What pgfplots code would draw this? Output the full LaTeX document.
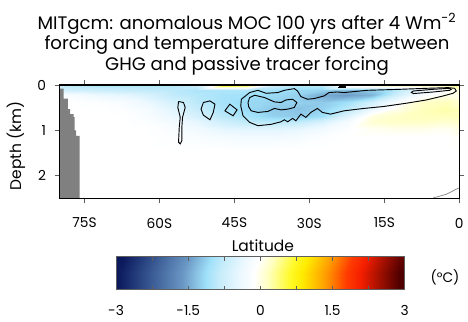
\documentclass[border=0pt]{standalone}
\usepackage{fontspec}
\setmainfont{Poppins}
\usepackage{pgfplots}
\pgfplotsset{compat=1.18}
\pgfplotsset{colormap={tempmap}{
 rgb255(0cm)=(0,10,80)
 rgb255(0.75cm)=(50,80,140)
 rgb255(1.5cm)=(105,150,195)
 rgb255(2cm)=(160,225,250)
 rgb255(2.25cm)=(195,235,250)
 rgb255(2.7cm)=(235,248,255)
 rgb255(3cm)=(255,255,255)
 rgb255(3.3cm)=(255,255,190)
 rgb255(3.75cm)=(255,250,40)
 rgb255(4cm)=(255,235,0)
 rgb255(4.5cm)=(255,150,0)
 rgb255(4.9cm)=(255,60,0)
 rgb255(5.2cm)=(245,30,0)
 rgb255(5.6cm)=(160,15,0)
 rgb255(6cm)=(80,0,0)}}
\definecolor{landgray}{RGB}{128,128,128}
\definecolor{tickgray}{RGB}{95,95,95}
\begin{document}
\begin{tikzpicture}
\path (0,0) rectangle (351pt,-243pt);
\node[anchor=base, font=\fontsize{13.7}{16}\selectfont, inner sep=0pt] at (186.75pt,-21.98pt) {MITgcm: anomalous MOC 100 yrs after 4 Wm\textsuperscript{-2}};
\node[anchor=base, font=\fontsize{13.7}{16}\selectfont, inner sep=0pt] at (186.75pt,-37.5pt) {forcing and temperature difference between};
\node[anchor=base, font=\fontsize{13.7}{16}\selectfont, inner sep=0pt] at (186.75pt,-53.0pt) {GHG and passive tracer forcing};
\node[anchor=base, font=\fontsize{10.4}{12}\selectfont, inner sep=0pt] at (336.5pt,-213.5pt) {(°C)};
\begin{axis}[
  at={(45pt,-150pt)}, anchor=south west,
  scale only axis, width=302.25pt, height=85.7pt,
  xmin=-80, xmax=0, ymin=0, ymax=2.5, y dir=reverse,
  xtick={-75,-60,-45,-30,-15,0}, xticklabels={75S,60S,45S,30S,15S,0},
  ytick={0,1,2}, yticklabels={0,1,2},
  tick align=outside, tick pos=both,
  major tick length=3.75pt,
  every tick/.style={tickgray, line width=0.6pt},
  axis line style={line width=1.1pt, black},
  ticklabel style={font=\fontsize{10.4}{12}\selectfont},
  xticklabel style={yshift=-7.5pt},
  yticklabel style={xshift=-3pt},
  xlabel={Latitude}, ylabel={Depth (km)},
  xlabel style={at={(axis description cs:0.5087,-0.465)}, anchor=base, font=\fontsize{11.7}{14}\selectfont},
  ylabel style={at={(axis description cs:-0.109,0.464)}, anchor=center, font=\fontsize{11.7}{14}\selectfont},
  colormap name=tempmap, point meta min=-3, point meta max=3,
  axis on top,
]
\addplot[matrix plot*, shader=interp, mesh/cols=17, point meta=explicit] coordinates {
(-80,0)[-0.6] (-75,0)[-0.7] (-70,0)[-0.75] (-65,0)[-0.75] (-60,0)[-0.75] (-55,0)[-0.7] (-50,0)[-0.4] (-45,0)[1.1] (-40,0)[0.9] (-35,0)[-0.6] (-30,0)[-0.7] (-25,0)[-0.5] (-20,0)[0.5] (-15,0)[0.6] (-10,0)[0.6] (-5,0)[0.6] (0,0)[0.6]
(-80,0.05)[-0.7] (-75,0.05)[-0.8] (-70,0.05)[-0.85] (-65,0.05)[-0.85] (-60,0.05)[-0.85] (-55,0.05)[-0.85] (-50,0.05)[-0.75] (-45,0.05)[0.6] (-40,0.05)[0.5] (-35,0.05)[-0.7] (-30,0.05)[-0.85] (-25,0.05)[-0.85] (-20,0.05)[0.0] (-15,0.05)[0.1] (-10,0.05)[0.15] (-5,0.05)[0.2] (0,0.05)[0.25]
(-80,0.15)[-0.5] (-75,0.15)[-0.6] (-70,0.15)[-0.65] (-65,0.15)[-0.7] (-60,0.15)[-0.75] (-55,0.15)[-0.8] (-50,0.15)[-0.9] (-45,0.15)[-0.9] (-40,0.15)[-0.9] (-35,0.15)[-0.95] (-30,0.15)[-1.05] (-25,0.15)[-1.1] (-20,0.15)[-1.25] (-15,0.15)[-1.15] (-10,0.15)[-0.8] (-5,0.15)[-0.3] (0,0.15)[0.0]
(-80,0.3)[-0.05] (-75,0.3)[-0.1] (-70,0.3)[-0.25] (-65,0.3)[-0.35] (-60,0.3)[-0.5] (-55,0.3)[-0.75] (-50,0.3)[-0.85] (-45,0.3)[-0.95] (-40,0.3)[-1.0] (-35,0.3)[-1.05] (-30,0.3)[-1.1] (-25,0.3)[-1.35] (-20,0.3)[-1.45] (-15,0.3)[-1.3] (-10,0.3)[-0.6] (-5,0.3)[-0.1] (0,0.3)[0.1]
(-80,0.45)[0] (-75,0.45)[0] (-70,0.45)[-0.05] (-65,0.45)[-0.1] (-60,0.45)[-0.3] (-55,0.45)[-0.55] (-50,0.45)[-0.8] (-45,0.45)[-0.95] (-40,0.45)[-1.05] (-35,0.45)[-1.1] (-30,0.45)[-1.1] (-25,0.45)[-1.15] (-20,0.45)[-1.0] (-15,0.45)[-0.6] (-10,0.45)[-0.1] (-5,0.45)[0.25] (0,0.45)[0.3]
(-80,0.6)[0] (-75,0.6)[0] (-70,0.6)[0] (-65,0.6)[-0.05] (-60,0.6)[-0.15] (-55,0.6)[-0.4] (-50,0.6)[-0.7] (-45,0.6)[-0.9] (-40,0.6)[-1.05] (-35,0.6)[-1.15] (-30,0.6)[-1.2] (-25,0.6)[-1.1] (-20,0.6)[-0.8] (-15,0.6)[-0.3] (-10,0.6)[0.1] (-5,0.6)[0.3] (0,0.6)[0.35]
(-80,0.75)[0] (-75,0.75)[0] (-70,0.75)[0] (-65,0.75)[0] (-60,0.75)[-0.1] (-55,0.75)[-0.3] (-50,0.75)[-0.55] (-45,0.75)[-0.8] (-40,0.75)[-0.95] (-35,0.75)[-1.1] (-30,0.75)[-1.15] (-25,0.75)[-1.0] (-20,0.75)[-0.45] (-15,0.75)[0.15] (-10,0.75)[0.25] (-5,0.75)[0.3] (0,0.75)[0.3]
(-80,0.9)[0] (-75,0.9)[0] (-70,0.9)[0] (-65,0.9)[0] (-60,0.9)[-0.05] (-55,0.9)[-0.15] (-50,0.9)[-0.35] (-45,0.9)[-0.6] (-40,0.9)[-0.75] (-35,0.9)[-0.8] (-30,0.9)[-0.75] (-25,0.9)[-0.5] (-20,0.9)[-0.15] (-15,0.9)[0.2] (-10,0.9)[0.25] (-5,0.9)[0.25] (0,0.9)[0.2]
(-80,1.05)[0] (-75,1.05)[0] (-70,1.05)[0] (-65,1.05)[0] (-60,1.05)[0] (-55,1.05)[-0.1] (-50,1.05)[-0.2] (-45,1.05)[-0.35] (-40,1.05)[-0.4] (-35,1.05)[-0.4] (-30,1.05)[-0.35] (-25,1.05)[-0.2] (-20,1.05)[-0.05] (-15,1.05)[0.05] (-10,1.05)[0.08] (-5,1.05)[0.08] (0,1.05)[0.05]
(-80,1.25)[0] (-75,1.25)[0] (-70,1.25)[0] (-65,1.25)[0] (-60,1.25)[0] (-55,1.25)[-0.05] (-50,1.25)[-0.1] (-45,1.25)[-0.15] (-40,1.25)[-0.2] (-35,1.25)[-0.2] (-30,1.25)[-0.15] (-25,1.25)[-0.05] (-20,1.25)[0] (-15,1.25)[0] (-10,1.25)[0] (-5,1.25)[0] (0,1.25)[0]
(-80,1.6)[0] (-75,1.6)[0] (-70,1.6)[0] (-65,1.6)[0] (-60,1.6)[0] (-55,1.6)[0] (-50,1.6)[0] (-45,1.6)[0] (-40,1.6)[0] (-35,1.6)[0] (-30,1.6)[0] (-25,1.6)[0] (-20,1.6)[0] (-15,1.6)[0] (-10,1.6)[0] (-5,1.6)[0] (0,1.6)[0]
(-80,2.5)[0] (-75,2.5)[0] (-70,2.5)[0] (-65,2.5)[0] (-60,2.5)[0] (-55,2.5)[0] (-50,2.5)[0] (-45,2.5)[0] (-40,2.5)[0] (-35,2.5)[0] (-30,2.5)[0] (-25,2.5)[0] (-20,2.5)[0] (-15,2.5)[0] (-10,2.5)[0] (-5,2.5)[0] (0,2.5)[0]
};
\addplot[fill=landgray, draw=none] coordinates {
(-80,0.08) (-79.2,0.08) (-79.2,0.3) (-78.35,0.3) (-78.35,0.53) (-77.9,0.53) (-77.9,0.64) (-77.2,0.64) (-77.2,0.71) (-77.0,0.71) (-77.0,1.0) (-76.7,1.0) (-76.7,1.12) (-76.0,1.12) (-76.0,2.5) (-80,2.5) (-80,0.08)};
\addplot[gray, line width=0.5pt] coordinates {(-5.2,2.49) (-2.6,2.41) (-0.3,2.28) (0,2.27)};
\addplot[black, line width=0.7pt] coordinates {
(-43.61,0.313) (-41.95,0.166) (-40.30,0.116) (-38.65,0.182) (-36.33,0.166) (-35.00,0.116) (-33.01,0.079) (-32.36,0.131) (-31.70,0.254) (-30.37,0.313) (-29.04,0.298) (-27.06,0.241) (-26.07,0.166) (-24.42,0.153) (-23.09,0.166) (-18.46,0.116) (-11.85,0.094) (-6.55,0.072) (-2.24,0.057) (-0.93,0.072) (-0.60,0.131) (-1.25,0.182) (-3.24,0.241) (-6.55,0.328) (-10.52,0.400) (-15.15,0.473) (-19.12,0.516) (-23.09,0.569) (-25.75,0.641) (-27.39,0.604) (-28.39,0.516) (-29.72,0.604) (-30.71,0.713) (-31.70,0.641) (-32.70,0.788) (-33.35,0.735) (-34.34,0.810) (-35.00,0.766) (-35.67,0.810) (-37.66,0.867) (-40.30,0.897) (-41.95,0.823) (-43.28,0.678) (-43.73,0.460) (-43.61,0.313)};
\addplot[black, line width=0.7pt] coordinates {
(-42.28,0.385) (-41.95,0.276) (-40.95,0.225) (-38.97,0.276) (-36.98,0.372) (-35.67,0.385) (-34.68,0.328) (-33.35,0.313) (-32.50,0.385) (-33.01,0.495) (-34.34,0.532) (-35.67,0.547) (-36.98,0.516) (-38.31,0.582) (-40.30,0.604) (-41.63,0.569) (-42.14,0.481) (-42.28,0.385)};
\addplot[black, line width=0.7pt] coordinates {
(-51.22,0.385) (-49.89,0.350) (-48.89,0.422) (-49.23,0.604) (-49.89,0.766) (-51.22,0.663) (-51.67,0.532) (-51.22,0.385)};
\addplot[black, line width=0.7pt] coordinates {
(-46.91,0.569) (-45.92,0.422) (-44.47,0.547) (-45.26,0.678) (-46.91,0.569)};
\addplot[black, line width=0.7pt] coordinates {
(-56.18,0.363) (-55.19,0.385) (-54.85,0.495) (-55.38,0.713) (-55.52,0.932) (-55.52,1.225) (-55.84,1.298) (-56.18,1.260) (-56.04,0.932) (-55.84,0.713) (-56.32,0.495) (-56.18,0.363)};
\addplot[black, line width=0.7pt] coordinates {
(-9.19,0.131) (-5.22,0.094) (-1.93,0.072) (-1.6,0.094) (-1.93,0.116) (-5.22,0.153) (-9.19,0.188) (-9.6,0.16) (-9.19,0.131)};
\addplot[black, line width=0.7pt] coordinates {
(-24.1,0.04) (-22.8,0.04) (-22.8,0.055) (-24.1,0.055) (-24.1,0.04)};
\end{axis}
% colour bar
\begin{axis}[
  at={(87.75pt,-219pt)}, anchor=south west,
  scale only axis, width=218.25pt, height=24.75pt,
  xmin=-3, xmax=3, ymin=0, ymax=1, ytick=\empty,
  xtick={-3,-2.25,-1.5,-0.75,0,0.75,1.5,2.25,3},
  xticklabels={-3,,-1.5,,0,,1.5,,3},
  tick align=inside, xtick pos=both, xticklabel pos=lower,
  major tick length=3pt,
  every tick/.style={tickgray, line width=0.6pt},
  axis line style={tickgray, line width=0.8pt},
  ticklabel style={font=\fontsize{10.4}{12}\selectfont},
  xticklabel style={yshift=-8.6pt},
  colormap name=tempmap, point meta min=-3, point meta max=3,
  axis on top,
]
\addplot[matrix plot*, shader=interp, mesh/cols=25, point meta=explicit] coordinates {
(-3,0)[-3] (-2.75,0)[-2.75] (-2.5,0)[-2.5] (-2.25,0)[-2.25] (-2,0)[-2] (-1.75,0)[-1.75] (-1.5,0)[-1.5] (-1.25,0)[-1.25] (-1,0)[-1] (-0.75,0)[-0.75] (-0.5,0)[-0.5] (-0.25,0)[-0.25] (0,0)[0] (0.25,0)[0.25] (0.5,0)[0.5] (0.75,0)[0.75] (1,0)[1] (1.25,0)[1.25] (1.5,0)[1.5] (1.75,0)[1.75] (2,0)[2] (2.25,0)[2.25] (2.5,0)[2.5] (2.75,0)[2.75] (3,0)[3]
(-3,1)[-3] (-2.75,1)[-2.75] (-2.5,1)[-2.5] (-2.25,1)[-2.25] (-2,1)[-2] (-1.75,1)[-1.75] (-1.5,1)[-1.5] (-1.25,1)[-1.25] (-1,1)[-1] (-0.75,1)[-0.75] (-0.5,1)[-0.5] (-0.25,1)[-0.25] (0,1)[0] (0.25,1)[0.25] (0.5,1)[0.5] (0.75,1)[0.75] (1,1)[1] (1.25,1)[1.25] (1.5,1)[1.5] (1.75,1)[1.75] (2,1)[2] (2.25,1)[2.25] (2.5,1)[2.5] (2.75,1)[2.75] (3,1)[3]
};
\end{axis}
\end{tikzpicture}
\end{document}
